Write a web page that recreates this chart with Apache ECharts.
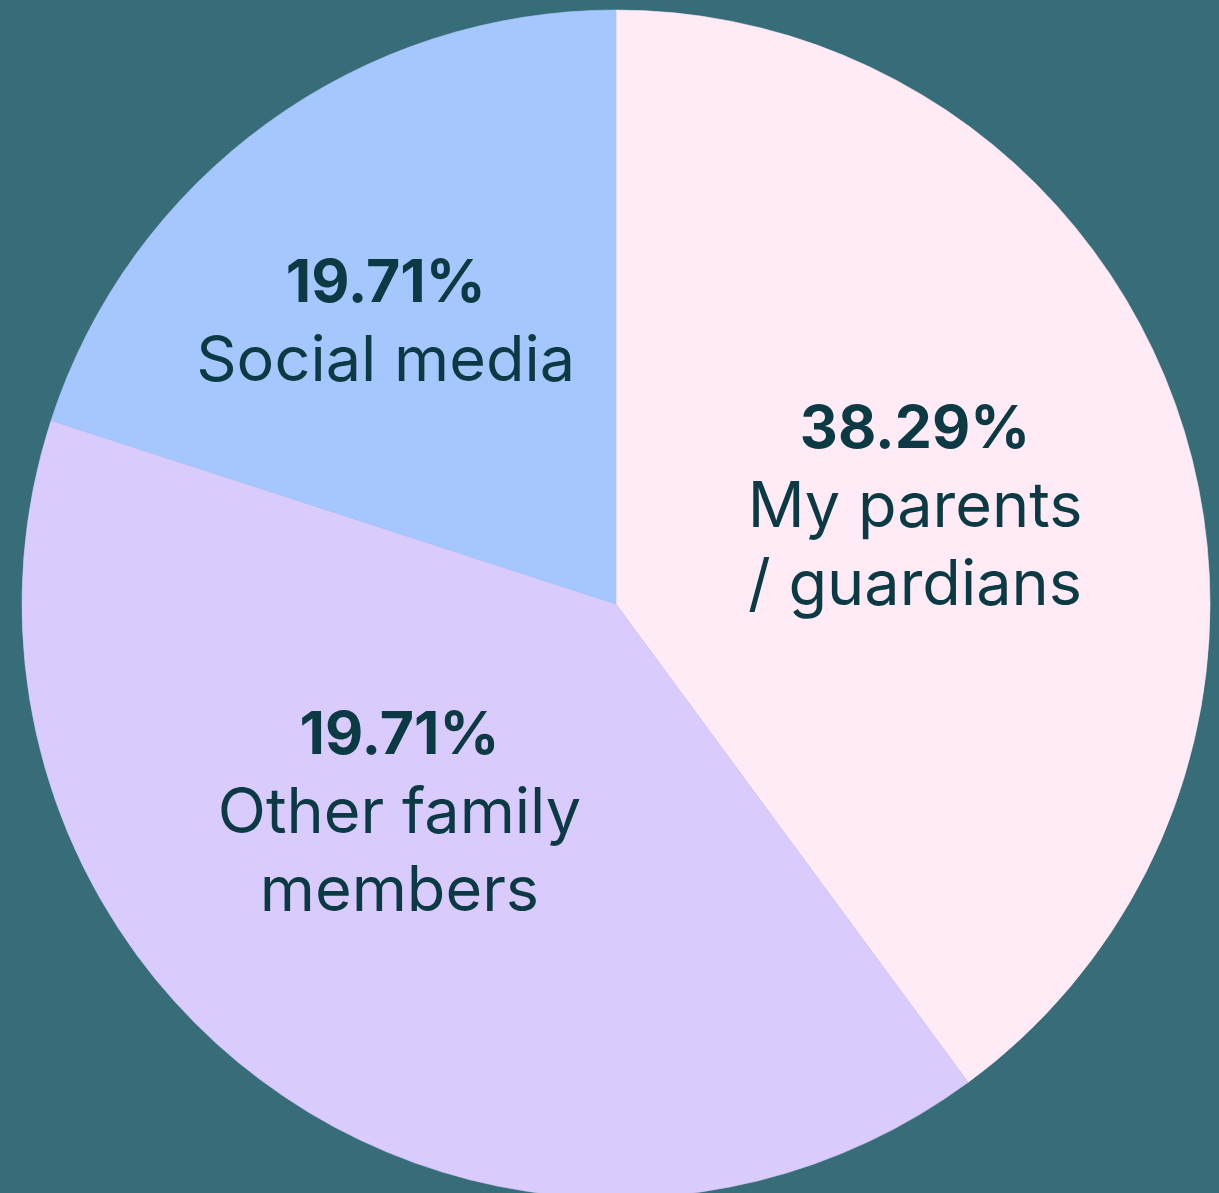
<!DOCTYPE html>
<html>
<head>
<meta charset="utf-8">
<script src="https://cdn.jsdelivr.net/npm/echarts@6/dist/echarts.min.js"></script>
<style>
html,body{margin:0;padding:0;background:#376d79;}
#chart{width:1219px;height:1193px;}
</style>
</head>
<body>
<div id="chart"></div>
<script>
// Categories (label lines) and values
const categories = ['My parents\n/ guardians', 'Other family\nmembers', 'Social media'];
const sliceValues = [39.9, 40.1, 20.0];          // slice sizes as drawn
const shownPercents = ['38.29%', '19.71%', '19.71%']; // percentages printed on slices
const sliceColors = ['#ffebf6', '#d9cbfc', '#a6c7fd'];

const labelOffsets = [[14, -2], [-41, -33], [-54, -38]];

const chart = echarts.init(document.getElementById('chart'), null, {renderer: 'canvas'});
const option = {
  backgroundColor: '#376d79',
  animation: false,
  series: [{
    type: 'pie',
    center: [616, 604],
    radius: [0, 594],
    startAngle: 90,
    clockwise: true,
    silent: true,
    labelLine: {show: false},
    label: {
      show: true,
      position: 'inside',
      color: '#0c3a44',
      align: 'center',
      formatter: function (p) {
        const lines = categories[p.dataIndex].split('\n').map(l => '{n|' + l + '}').join('\n');
        return '{p|' + shownPercents[p.dataIndex] + '}\n' + lines;
      },
      rich: {
        p: {fontFamily: 'Inter', fontWeight: 'bold', fontSize: 59, lineHeight: 78, color: '#0c3a44'},
        n: {fontFamily: 'Inter', fontWeight: 'normal', fontSize: 63, lineHeight: 78, color: '#0c3a44'}
      }
    },
    data: categories.map((c, i) => ({
      name: c,
      value: sliceValues[i],
      itemStyle: {color: sliceColors[i], borderColor: sliceColors[i], borderWidth: 0.6},
      label: {offset: labelOffsets[i]}
    }))
  }]
};
chart.setOption(option);
</script>
</body>
</html>
